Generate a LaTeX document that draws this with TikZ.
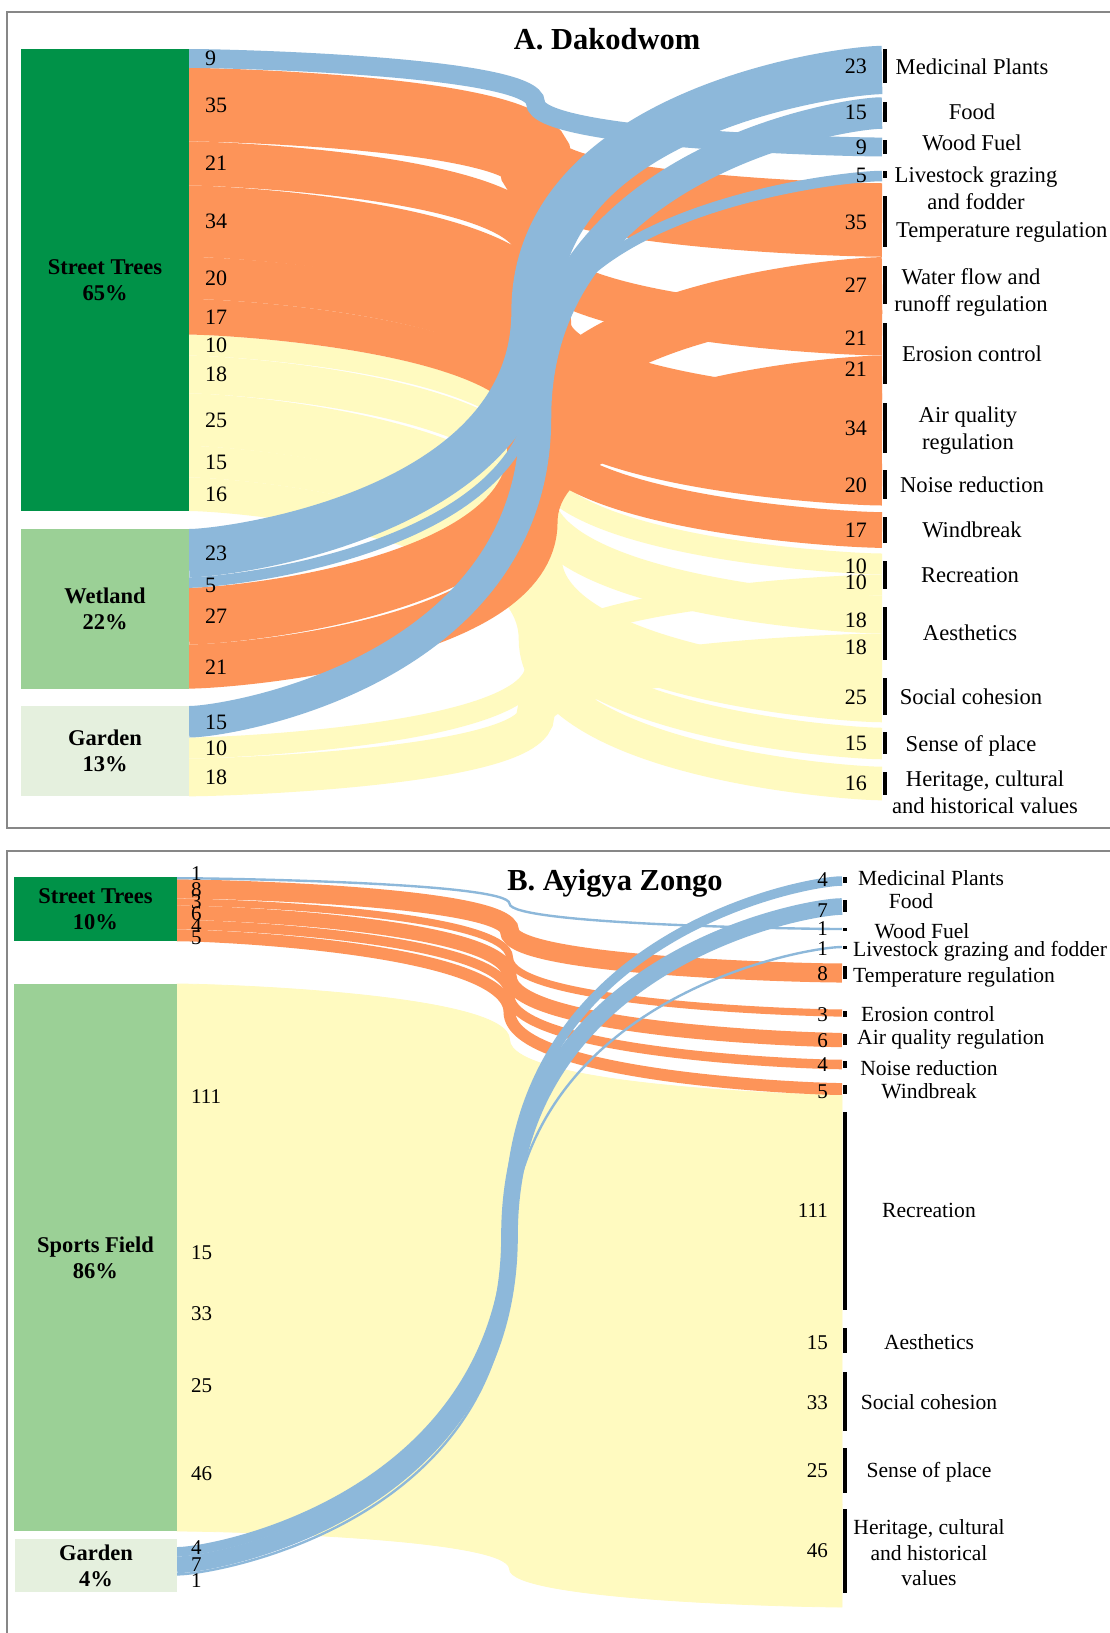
\documentclass[tikz,border=0pt]{standalone}
\usepackage{fontspec}
\setmainfont{Liberation Serif}
\definecolor{fblue}{RGB}{141,184,218}
\definecolor{forange}{RGB}{253,148,89}
\definecolor{fyellow}{RGB}{255,250,192}
\definecolor{gdark}{RGB}{0,146,72}
\definecolor{gmid}{RGB}{155,208,150}
\definecolor{glight}{RGB}{229,240,222}
\definecolor{framegray}{RGB}{135,135,135}
% flow drawn as a thick stroke: horizontal at both ends, vertical in the middle
\newcommand\flowline[7]{%
  \coordinate (#3s) at (#4,#5);
  \coordinate (#3t) at (#6,#7);
  \coordinate (#3m) at ({(#4+#6)/2},{(#5+#7)/2});
  \pgfmathsetmacro\fa{0.12*(#6-#4)/2}%
  \pgfmathsetmacro\fb{0.83*(#5-#7)/2}%
  \pgfmathsetmacro\fbn{-1*(\fb)}%
  \draw[#1, line width=#2pt] (#3s) .. controls +(\fa,0) and +(0,\fb) .. (#3m) .. controls +(0,\fbn) and +(-\fa,0) .. (#3t);}
% flow drawn as a filled band (panel B sports field)
\newcommand\flowband[6]{%
  \coordinate (#2a) at (177,#3);
  \coordinate (#2b) at (842,#5);
  \coordinate (#2c) at (842,#6);
  \coordinate (#2d) at (177,#4);
  \pgfmathsetmacro\fa{0.12*332.5}%
  \pgfmathsetmacro\fbt{0.83*(#3-#5)/2}\pgfmathsetmacro\fbtn{-1*(\fbt)}%
  \pgfmathsetmacro\fbb{0.83*(#4-#6)/2}\pgfmathsetmacro\fbbn{-1*(\fbb)}%
  \pgfmathsetmacro\ymt{(#3+#5)/2}\pgfmathsetmacro\ymb{(#4+#6)/2}%
  \filldraw[#1] (#2a) .. controls +(\fa,0) and +(0,\fbt) .. (509.5,\ymt) .. controls +(0,\fbtn) and +(-\fa,0) .. (#2b) -- (#2c) .. controls +(-\fa,0) and +(0,\fbbn) .. (509.5,\ymb) .. controls +(0,\fbb) and +(\fa,0) .. (#2d) -- cycle;}
\newcommand\tbarA[2]{\fill[black] (883,#1) rectangle (887,#2);}
\newcommand\tbarB[2]{\fill[black] (843,#1) rectangle (847,#2);}
\begin{document}
\begin{tikzpicture}[x=1pt,y=-1pt,
  yflow/.style={draw=fyellow, line cap=butt},
  oflow/.style={draw=forange, line cap=butt},
  bflow/.style={draw=fblue, line cap=butt},
  yband/.style={fill=fyellow, draw=fyellow, line width=0.8pt},
  frame/.style={draw=framegray, line width=2.5pt},
  srcbox/.style={inner sep=0pt, align=center, font=\bfseries\fontsize{22.5}{26}\selectfont},
  numA/.style={inner sep=0pt, font=\fontsize{22}{24}\selectfont},
  numB/.style={inner sep=0pt, font=\fontsize{21}{23}\selectfont},
  txtA/.style={inner sep=0pt, align=center, font=\fontsize{22.6}{27}\selectfont},
  txtB/.style={inner sep=0pt, align=center, font=\fontsize{21.6}{25.5}\selectfont},
  ttl/.style={inner sep=0pt, font=\bfseries\fontsize{30.5}{34}\selectfont}]
\useasboundingbox (0,0) rectangle (1110,1633);
\fill[white] (0,0) rectangle (1110,1633);
% frames
\draw[frame] (7,12) rectangle (1140,828);
\draw[frame] (7,851) rectangle (1140,1660);

% ================= PANEL A =================
% yellow
\flowline{yflow}{21}{a7}{189}{345.1}{882}{564}
\flowline{yflow}{37.8}{a8}{189}{374.5}{882}{614.6}
\flowline{yflow}{52.5}{a9}{189}{419.65}{882}{696}
\flowline{yflow}{31.5}{a10}{189}{461.65}{882}{743.5}
\flowline{yflow}{33.6}{a11}{189}{494.2}{882}{783.5}
\flowline{yflow}{21}{a17}{189}{748}{882}{585}
\flowline{yflow}{37.8}{a18}{189}{777.4}{882}{652.4}
% orange
\flowline{oflow}{73.5}{a2}{189}{104.65}{882}{220}
\flowline{oflow}{44.1}{a3}{189}{163.45}{882}{333.45}
\flowline{oflow}{71.4}{a4}{189}{221.2}{882}{429}
\flowline{oflow}{42}{a5}{189}{277.9}{882}{484.5}
\flowline{oflow}{35.7}{a6}{189}{316.75}{882}{530}
\flowline{oflow}{56.7}{a14}{189}{616.15}{882}{285.5}
\flowline{oflow}{44.1}{a15}{189}{666.55}{882}{377.55}
% blue
\flowline{bflow}{18.9}{a1}{189}{58.45}{882}{147}
\flowline{bflow}{48.3}{a12}{189}{553.15}{882}{70}
\flowline{bflow}{10.5}{a13}{189}{582.55}{882}{176}
\flowline{bflow}{31.5}{a16}{189}{721.75}{882}{113}
% source boxes
\node[srcbox, fill=gdark, minimum width=168pt, minimum height=462pt] (stA) at (105,280) {Street Trees\\65\%};
\node[srcbox, fill=gmid, minimum width=168pt, minimum height=159.6pt] (wlA) at (105,608.8) {Wetland\\22\%};
\node[srcbox, fill=glight, minimum width=168pt, minimum height=90.3pt] (gaA) at (105,751.15) {Garden\\13\%};
% bars
\tbarA{49}{83}\tbarA{102}{122}\tbarA{140}{154}\tbarA{171}{178}\tbarA{196}{247}
\tbarA{266}{304}\tbarA{323}{384}\tbarA{403}{453}\tbarA{470}{499}\tbarA{517}{543}
\tbarA{561}{589}\tbarA{607}{660}\tbarA{678}{715}\tbarA{732}{754}\tbarA{772}{795}
% title
\node[ttl, anchor=base] (titA) at (607,49.4) {A. Dakodwom};
% left numbers
\node[numA, anchor=base west] (la1) at (205,65.9) {9};
\node[numA, anchor=base west] (la2) at (205,112.1) {35};
\node[numA, anchor=base west] (la3) at (205,170.9) {21};
\node[numA, anchor=base west] (la4) at (205,228.6) {34};
\node[numA, anchor=base west] (la5) at (205,285.3) {20};
\node[numA, anchor=base west] (la6) at (205,324.2) {17};
\node[numA, anchor=base west] (la7) at (205,352.5) {10};
\node[numA, anchor=base west] (la8) at (205,381.9) {18};
\node[numA, anchor=base west] (la9) at (205,427.1) {25};
\node[numA, anchor=base west] (la10) at (205,469.1) {15};
\node[numA, anchor=base west] (la11) at (205,501.6) {16};
\node[numA, anchor=base west] (la12) at (205,560.6) {23};
\node[numA, anchor=base west] (la13) at (205,592.4) {5};
\node[numA, anchor=base west] (la14) at (205,623.6) {27};
\node[numA, anchor=base west] (la15) at (205,674) {21};
\node[numA, anchor=base west] (la16) at (205,729.2) {15};
\node[numA, anchor=base west] (la17) at (205,755.4) {10};
\node[numA, anchor=base west] (la18) at (205,784.8) {18};
% right numbers
\node[numA, anchor=base east] (ra1) at (867,73.4) {23};
\node[numA, anchor=base east] (ra2) at (867,119.4) {15};
\node[numA, anchor=base east] (ra3) at (867,154.4) {9};
\node[numA, anchor=base east] (ra4) at (867,182.4) {5};
\node[numA, anchor=base east] (ra5) at (867,229.4) {35};
\node[numA, anchor=base east] (ra6) at (867,292.4) {27};
\node[numA, anchor=base east] (ra7) at (867,345.4) {21};
\node[numA, anchor=base east] (ra8) at (867,376.4) {21};
\node[numA, anchor=base east] (ra9) at (867,435.4) {34};
\node[numA, anchor=base east] (ra10) at (867,492.4) {20};
\node[numA, anchor=base east] (ra11) at (867,537.4) {17};
\node[numA, anchor=base east] (ra12) at (867,573.4) {10};
\node[numA, anchor=base east] (ra13) at (867,589.4) {10};
\node[numA, anchor=base east] (ra14) at (867,627.4) {18};
\node[numA, anchor=base east] (ra15) at (867,654.4) {18};
\node[numA, anchor=base east] (ra16) at (867,704.4) {25};
\node[numA, anchor=base east] (ra17) at (867,750.4) {15};
\node[numA, anchor=base east] (ra18) at (867,790.4) {16};
% right texts
\node[txtA, anchor=base] (ta1) at (972,74.7) {Medicinal Plants};
\node[txtA, anchor=base] (ta2) at (972,119.7) {Food};
\node[txtA, anchor=base] (ta3) at (972,150.7) {Wood Fuel};
\node[txtA] (ta4) at (976,188) {Livestock grazing\\and fodder};
\node[txtA, anchor=base west] (ta5) at (896,237.7) {Temperature regulation};
\node[txtA] (ta6) at (971,292) {Water flow and\\runoff regulation};
\node[txtA, anchor=base] (ta7) at (972,361.7) {Erosion control};
\node[txtA] (ta8) at (968,431) {Air quality\\regulation};
\node[txtA, anchor=base] (ta9) at (972,492.7) {Noise reduction};
\node[txtA, anchor=base] (ta10) at (972,537.7) {Windbreak};
\node[txtA, anchor=base] (ta11) at (970,582.7) {Recreation};
\node[txtA, anchor=base] (ta12) at (970,640.7) {Aesthetics};
\node[txtA, anchor=base] (ta13) at (971,704.7) {Social cohesion};
\node[txtA, anchor=base] (ta14) at (971,751.7) {Sense of place};
\node[txtA] (ta15) at (985,792) {Heritage, cultural\\and historical values};

% ================= PANEL B =================
% yellow
\flowband{yband}{b10}{984}{1248.2}{1095}{1342.1}
\flowband{yband}{b11}{1248.2}{1283.9}{1342.1}{1375.5}
\flowband{yband}{b12}{1283.9}{1362.4}{1375.5}{1449}
\flowband{yband}{b13}{1362.4}{1421.9}{1449}{1504.6}
\flowband{yband}{b14}{1421.9}{1531}{1504.6}{1607}
% orange
\flowline{oflow}{19.04}{b2}{177}{888.9}{842}{973}
\flowline{oflow}{7.14}{b3}{177}{902}{842}{1013}
\flowline{oflow}{14.28}{b4}{177}{912.6}{842}{1040}
\flowline{oflow}{9.52}{b5}{177}{924.5}{842}{1064.5}
\flowline{oflow}{11.9}{b6}{177}{935.3}{842}{1089}
% blue
\flowline{bflow}{2.38}{b1}{177}{878.2}{842}{929}
\flowline{bflow}{9.52}{b7}{177}{1551.8}{842}{881}
\flowline{bflow}{16.66}{b8}{177}{1564.8}{842}{906.5}
\flowline{bflow}{2.38}{b9}{177}{1574.4}{842}{947}
% source boxes
\node[srcbox, fill=gdark, minimum width=163pt, minimum height=64.3pt] (stB) at (95.5,909.15) {Street Trees\\10\%};
\node[srcbox, fill=gmid, minimum width=163pt, minimum height=547pt] (sfB) at (95.5,1257.5) {Sports Field\\86\%};
\node[srcbox, fill=glight, minimum width=162pt, minimum height=53pt] (gaB) at (96,1565.5) {Garden\\4\%};
% bars
\tbarB{877}{883}\tbarB{900}{912}\tbarB{928}{931}\tbarB{946}{949}\tbarB{966}{979}
\tbarB{1011}{1017}\tbarB{1034}{1045}\tbarB{1061}{1068}\tbarB{1085}{1094}
\tbarB{1112}{1310}\tbarB{1328}{1353}\tbarB{1372}{1431}\tbarB{1448}{1493}\tbarB{1509}{1593}
% title
\node[ttl, anchor=base] (titB) at (615,890.4) {B. Ayigya Zongo};
% left numbers
\node[numB, anchor=base west] (lb1) at (191,880.1) {1};
\node[numB, anchor=base west] (lb2) at (191,896.1) {8};
\node[numB, anchor=base west] (lb3) at (191,908.1) {3};
\node[numB, anchor=base west] (lb4) at (191,920.1) {6};
\node[numB, anchor=base west] (lb5) at (191,932.1) {4};
\node[numB, anchor=base west] (lb6) at (191,944.1) {5};
\node[numB, anchor=base west] (lb7) at (191,1103.1) {111};
\node[numB, anchor=base west] (lb8) at (191,1259.1) {15};
\node[numB, anchor=base west] (lb9) at (191,1320.1) {33};
\node[numB, anchor=base west] (lb10) at (191,1392.1) {25};
\node[numB, anchor=base west] (lb11) at (191,1480.1) {46};
\node[numB, anchor=base west] (lb12) at (191,1554.1) {4};
\node[numB, anchor=base west] (lb13) at (191,1571.1) {7};
\node[numB, anchor=base west] (lb14) at (191,1587.1) {1};
% right numbers
\node[numB, anchor=base east] (rb1) at (828,886.1) {4};
\node[numB, anchor=base east] (rb2) at (828,917.1) {7};
\node[numB, anchor=base east] (rb3) at (828,935.1) {1};
\node[numB, anchor=base east] (rb4) at (828,955.1) {1};
\node[numB, anchor=base east] (rb5) at (828,980.1) {8};
\node[numB, anchor=base east] (rb6) at (828,1021.1) {3};
\node[numB, anchor=base east] (rb7) at (828,1047.1) {6};
\node[numB, anchor=base east] (rb8) at (828,1071.1) {4};
\node[numB, anchor=base east] (rb9) at (828,1098.1) {5};
\node[numB, anchor=base east] (rb10) at (828,1217.1) {111};
\node[numB, anchor=base east] (rb11) at (828,1349.1) {15};
\node[numB, anchor=base east] (rb12) at (828,1409.1) {33};
\node[numB, anchor=base east] (rb13) at (828,1477.1) {25};
\node[numB, anchor=base east] (rb14) at (828,1557.1) {46};
% right texts
\node[txtB, anchor=base] (tb1) at (931,885.3) {Medicinal Plants};
\node[txtB, anchor=base] (tb2) at (911,908.3) {Food};
\node[txtB, anchor=base] (tb3) at (922,938.3) {Wood Fuel};
\node[txtB, anchor=base west] (tb4) at (853,956.3) {Livestock grazing and fodder};
\node[txtB, anchor=base west] (tb5) at (853,982.3) {Temperature regulation};
\node[txtB, anchor=base] (tb6) at (928,1021.3) {Erosion control};
\node[txtB, anchor=base west] (tb7) at (857,1044.3) {Air quality regulation};
\node[txtB, anchor=base] (tb8) at (929,1075.3) {Noise reduction};
\node[txtB, anchor=base] (tb9) at (929,1098.3) {Windbreak};
\node[txtB, anchor=base] (tb10) at (929,1217.3) {Recreation};
\node[txtB, anchor=base] (tb11) at (929,1349.3) {Aesthetics};
\node[txtB, anchor=base] (tb12) at (929,1409.3) {Social cohesion};
\node[txtB, anchor=base] (tb13) at (929,1477.3) {Sense of place};
\node[txtB] (tb14) at (929,1553) {Heritage, cultural\\and historical\\values};
\end{tikzpicture}
\end{document}
